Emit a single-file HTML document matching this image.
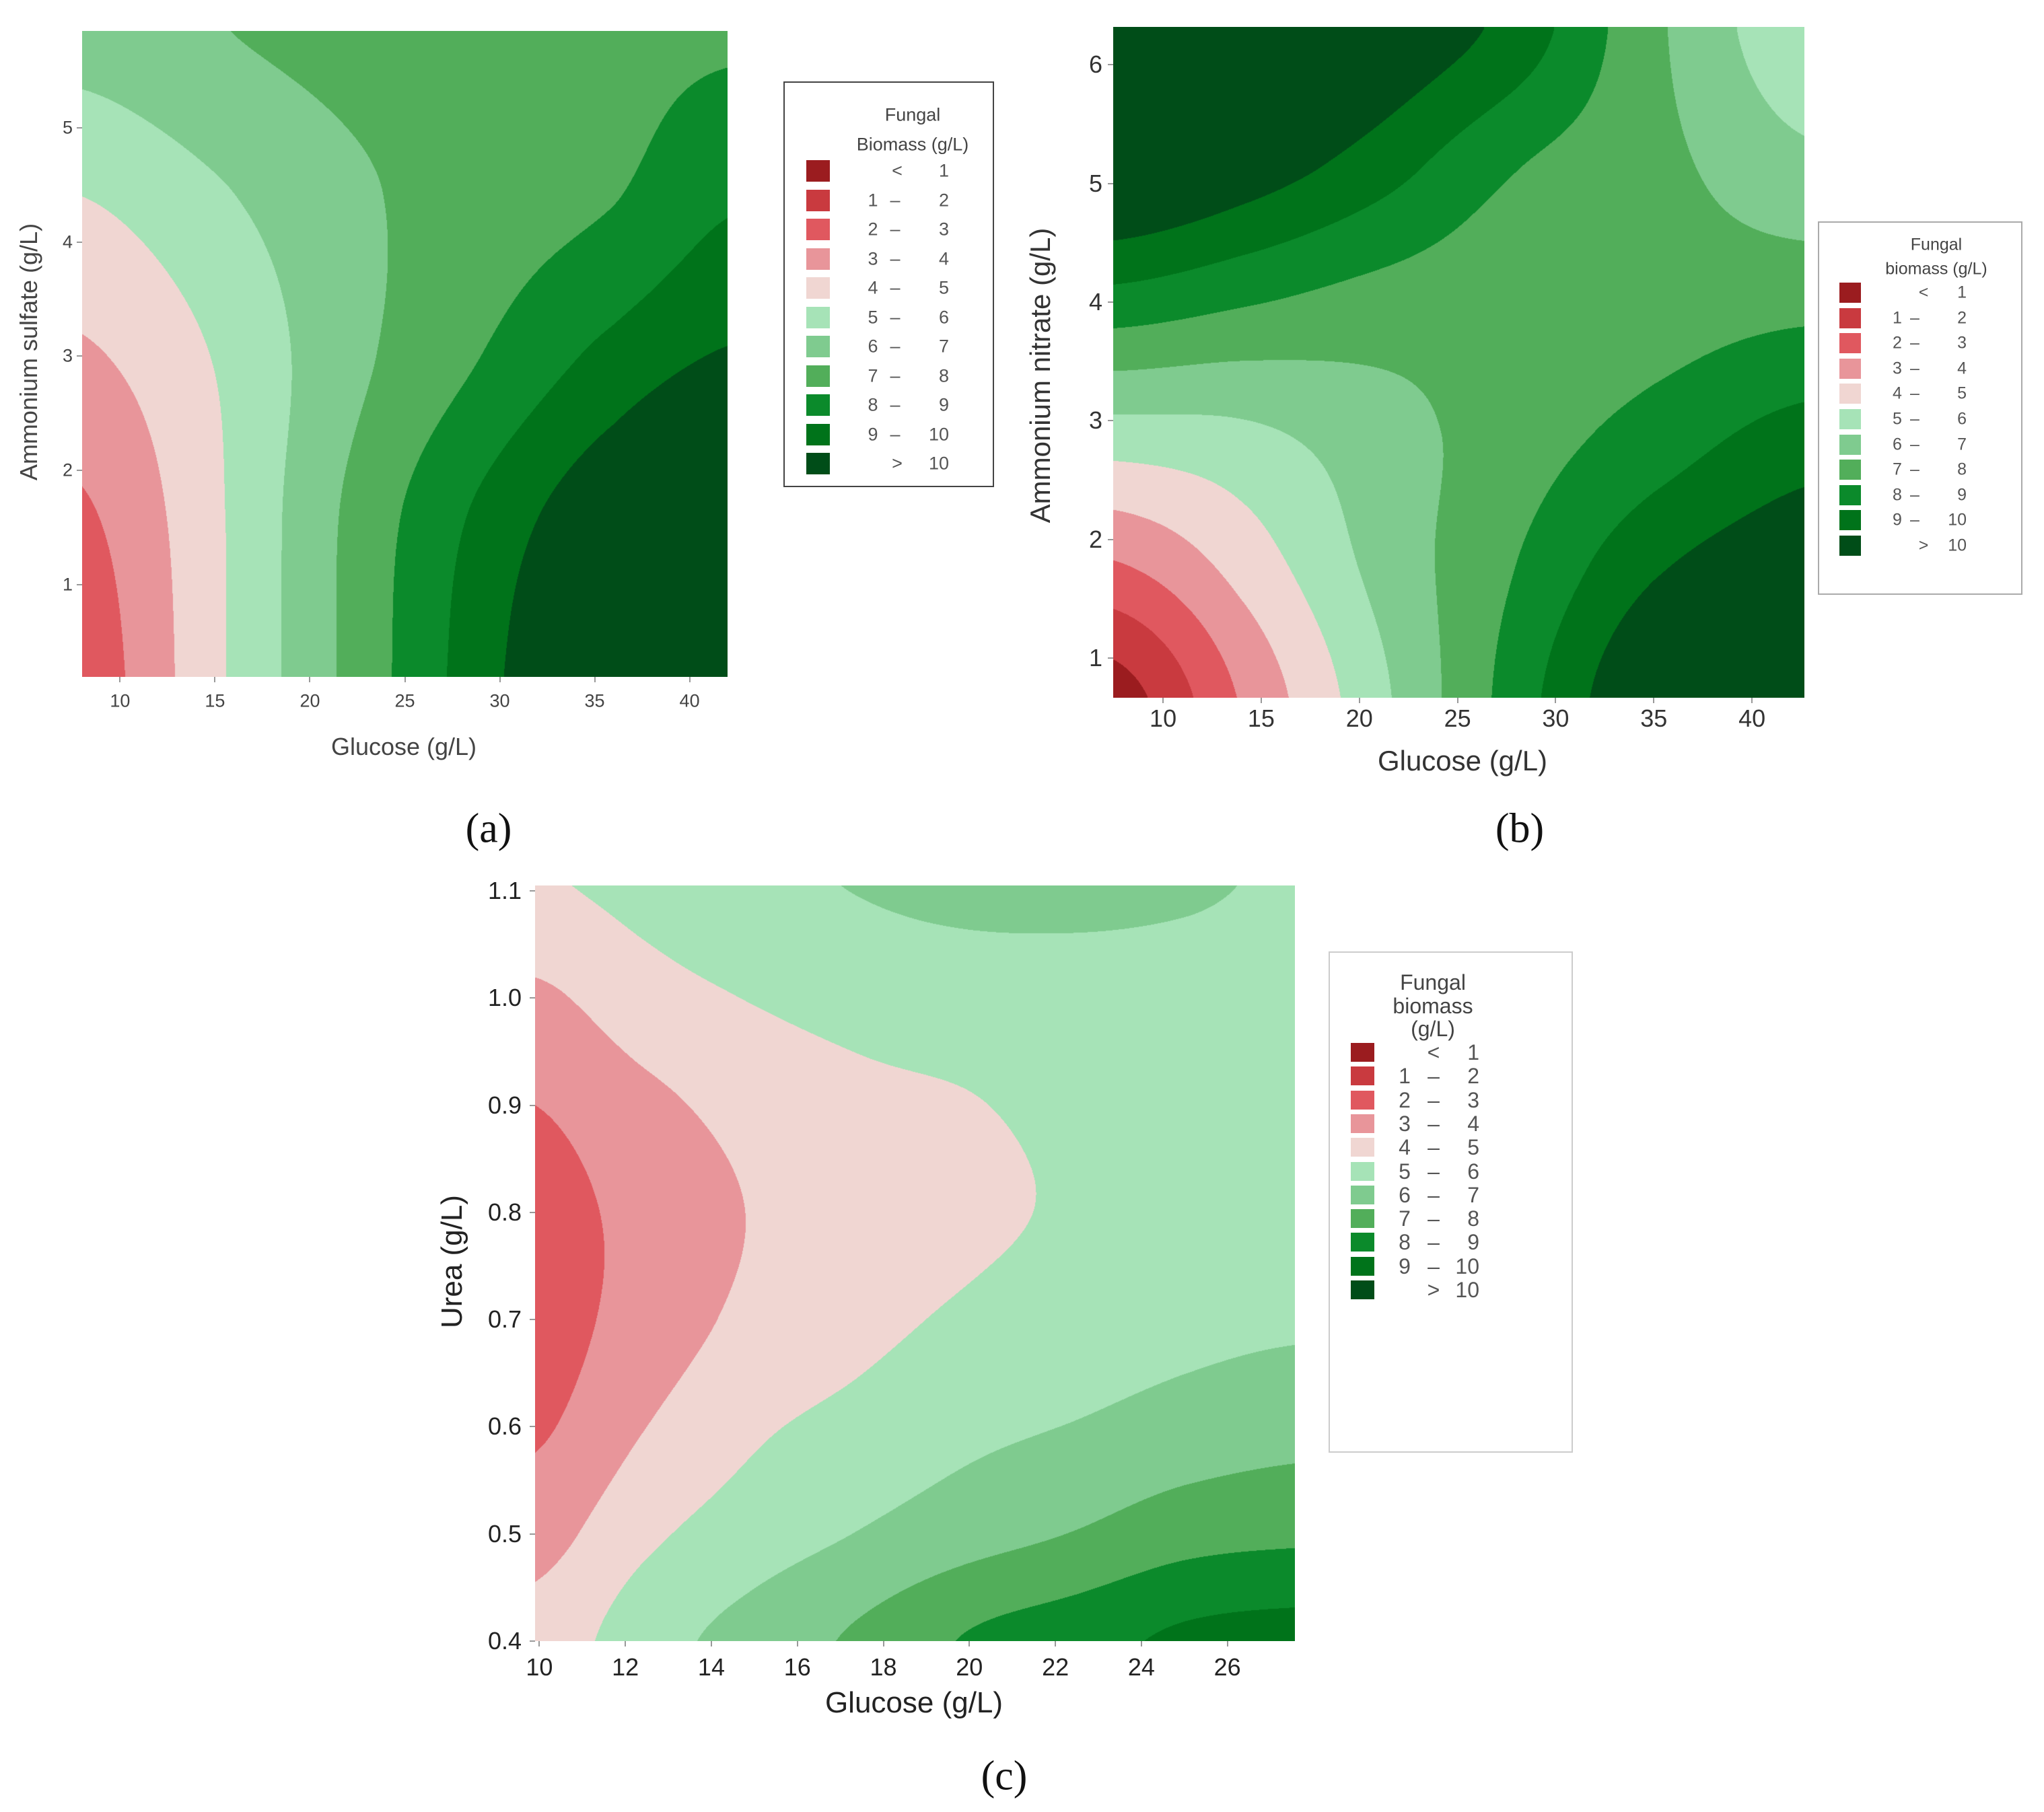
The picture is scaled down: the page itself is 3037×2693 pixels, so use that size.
<!DOCTYPE html>
<html><head><meta charset="utf-8">
<style>
body{margin:0;background:#fff;}
#root{position:relative;width:3037px;height:2693px;overflow:hidden;background:#fff;font-family:"Liberation Sans",sans-serif;color:#444;}
.t{position:absolute;white-space:nowrap;line-height:1;}
canvas{position:absolute;}
.box{position:absolute;box-sizing:border-box;background:#fff;}
.sw{position:absolute;}
.cap{position:absolute;font-family:"Liberation Serif",serif;font-size:62px;color:#111;transform:translate(-50%,-50%);white-space:nowrap;}
</style></head>
<body>
<div id="root"></div>
<script>
// ---------- DATA ----------
const levelColors=["#9b1c1f","#c93a3f","#e0585f","#e8959a","#f0d6d2","#a6e3b7","#7fcb8f","#52ae5a","#0b8a2b","#00731a","#004d18"];
const levelLower=["","1","2","3","4","5","6","7","8","9",""];
const levelUpper=["1","2","3","4","5","6","7","8","9","10","10"];

// panel a : glucose vs ammonium sulfate
const aGlucose=[8,15,22,29,36,42];
const aSulfate=[0.2,1.6,3.0,4.4,5.85];
const aBiomass=[
 [2.4,4.8,7.2,9.6,11.8,13.5],
 [2.85,4.83,7.15,9.2,10.9,12],
 [3.85,5.05,6.7,8.0,9.3,10.1],
 [5.0,5.85,6.8,7.45,7.95,8.85],
 [6.4,6.95,7.3,7.5,7.7,7.85]
];
const aXTicks=[10,15,20,25,30,35,40];
const aYTicks=[1,2,3,4,5];

// panel b : glucose vs ammonium nitrate
const bGlucose=[7.5,14,21,28,35,42.7];
const bNitrate=[0.67,1.8,2.9,4.0,5.1,6.3];
const bBiomass=[
 [0.5,3.1,5.75,8.5,11.3,14],
 [2.95,4.4,6.3,8.0,9.8,11],
 [5.6,5.8,6.6,7.5,8.4,9.4],
 [8.6,8.1,7.6,7.4,7.5,7.7],
 [11.5,10.6,9.4,8.0,7.3,6.3],
 [14,12.5,11,9.6,7.2,5.3]
];
const bXTicks=[10,15,20,25,30,35,40];
const bYTicks=[1,2,3,4,5,6];

// panel c : glucose vs urea
const cGlucose=[9.9,12.5,15,17.5,20,22.5,25,27.6];
const cUrea=[0.4,0.5,0.6,0.7,0.8,0.9,1.0,1.105];
const cBiomass=[
 [4.4,5.6,6.4,7.2,8.1,8.6,9.2,9.4],
 [3.6,4.8,5.5,6.05,6.6,7.05,7.6,7.8],
 [2.85,4.0,4.85,5.3,5.75,6.05,6.4,6.65],
 [2.55,3.45,4.25,4.75,5.15,5.45,5.7,5.85],
 [2.6,3.35,4.05,4.5,4.82,5.12,5.4,5.5],
 [3.0,3.75,4.35,4.75,4.95,5.25,5.4,5.45],
 [3.8,4.6,5.05,5.35,5.5,5.65,5.65,5.6],
 [4.9,5.3,5.75,6.05,6.25,6.2,6.1,5.9]
];
const cXTicks=[10,12,14,16,18,20,22,24,26];
const cYTicks=[0.4,0.5,0.6,0.7,0.8,0.9,1.0,1.1];

// ---------- helpers ----------
const root=document.getElementById('root');
function txt(s,x,y,size,opt){
  opt=opt||{};
  const d=document.createElement('div');
  d.className='t';d.textContent=s;
  d.style.fontSize=size+'px';
  if(opt.color)d.style.color=opt.color;
  if(opt.font)d.style.fontFamily=opt.font;
  let tx=opt.align==='right'?'-100%':(opt.align==='left'?'0':'-50%');
  let tr='translate('+tx+',-50%)';
  if(opt.rot)tr='translate(-50%,-50%) rotate(-90deg)';
  d.style.left=x+'px';d.style.top=y+'px';d.style.transform=tr;
  
  
  root.appendChild(d);return d;
}
function fidx(arr,v){
  if(v<=arr[0])return 0;
  const n=arr.length-1;
  if(v>=arr[n])return n;
  for(let i=0;i<n;i++){if(v<=arr[i+1])return i+(v-arr[i])/(arr[i+1]-arr[i]);}
  return n;
}
function cr(p0,p1,p2,p3,t){
  return 0.5*((2*p1)+(-p0+p2)*t+(2*p0-5*p1+4*p2-p3)*t*t+(-p0+3*p1-3*p2+p3)*t*t*t);
}
function evalGrid(grid,fx,fy){
  const ny=grid.length,nx=grid[0].length;
  let ix=Math.min(Math.floor(fx),nx-2),iy=Math.min(Math.floor(fy),ny-2);
  const tx=fx-ix,ty=fy-iy;
  const g=(r,c)=>grid[Math.max(0,Math.min(ny-1,r))][Math.max(0,Math.min(nx-1,c))];
  const rows=[];
  for(let k=-1;k<=2;k++){
    const r=iy+k;
    rows.push(cr(g(r,ix-1),g(r,ix),g(r,ix+1),g(r,ix+2),tx));
  }
  return cr(rows[0],rows[1],rows[2],rows[3],ty);
}
function hex(h){return [parseInt(h.substr(1,2),16),parseInt(h.substr(3,2),16),parseInt(h.substr(5,2),16)];}
const rgb=levelColors.map(hex);

function panel(P){
  const W=P.x1-P.x0,H=P.y1-P.y0;
  const sx=v=>P.x0+(v-P.xmin)/(P.xmax-P.xmin)*W;
  const sy=v=>P.y1-(v-P.ymin)/(P.ymax-P.ymin)*H;
  const cv=document.createElement('canvas');
  cv.width=W;cv.height=H;cv.style.left=P.x0+'px';cv.style.top=P.y0+'px';
  
  
  root.appendChild(cv);
  const ctx=cv.getContext('2d');
  const img=ctx.createImageData(W,H);
  const fxs=[];for(let i=0;i<W;i++){const v=P.xmin+(i+0.5)/W*(P.xmax-P.xmin);fxs.push(fidx(P.gx,v));}
  for(let j=0;j<H;j++){
    const v=P.ymax-(j+0.5)/H*(P.ymax-P.ymin);
    const fy=fidx(P.gy,v);
    for(let i=0;i<W;i++){
      const z=evalGrid(P.grid,fxs[i],fy);
      let k=Math.floor(z);if(k<0)k=0;if(k>10)k=10;
      const c=rgb[k],o=(j*W+i)*4;
      img.data[o]=c[0];img.data[o+1]=c[1];img.data[o+2]=c[2];img.data[o+3]=255;
    }
  }
  ctx.putImageData(img,0,0);
  P.xt.forEach(t=>{
    const x=sx(t);
    const m=document.createElement('div');m.className='sw';
    m.style.cssText='left:'+(x-1)+'px;top:'+P.y1+'px;width:2px;height:8px;background:#999;';
    root.appendChild(m);
    txt(String(t),x,P.xly,P.tf,{name:'x-tick-label',color:P.tc,font:P.tfont});
  });
  P.yt.forEach(t=>{
    const y=sy(t);
    const m=document.createElement('div');m.className='sw';
    m.style.cssText='left:'+(P.x0-8)+'px;top:'+(y-1)+'px;width:8px;height:2px;background:#999;';
    root.appendChild(m);
    txt(P.yfmt?t.toFixed(1):String(t),P.ylx,y,P.tf,{name:'y-tick-label',align:'right',color:P.tc,font:P.tfont});
  });
  txt(P.xtitle,P.xtx,P.xty,P.af,{name:'x-axis-title',color:P.tc});
  txt(P.ytitle,P.ytx,P.yty,P.af,{name:'y-axis-title',rot:true,color:P.tc});
  const L=P.leg;
  const b=document.createElement('div');b.className='box';
  b.style.cssText+='left:'+L.x0+'px;top:'+L.y0+'px;width:'+(L.x1-L.x0)+'px;height:'+(L.y1-L.y0)+'px;border:'+L.border+';';
  root.appendChild(b);
  L.title.forEach((s,i)=>txt(s,L.tx,L.ty[i],L.tfs,{name:'legend-title',color:'#444'}));
  levelColors.forEach((c,i)=>{
    const cy=L.first+i*L.step;
    const s=document.createElement('div');s.className='sw';
    s.style.cssText='left:'+L.sx+'px;top:'+(cy-L.sh/2)+'px;width:'+L.sw+'px;height:'+L.sh+'px;background:'+c+';';
    root.appendChild(s);
    if(i===0)txt('<',L.sym,cy,L.fs,{name:'legend-entry',color:'#555'});
    else if(i===10)txt('>',L.sym,cy,L.fs,{name:'legend-entry',color:'#555'});
    else{txt(levelLower[i],L.lo,cy,L.fs,{name:'legend-entry',color:'#555'});txt('–',L.dash,cy,L.fs,{name:'legend-entry',color:'#555'});}
    txt(levelUpper[i],L.up,cy,L.fs,{name:'legend-entry',align:'right',color:'#555'});
  });
}

panel({id:'panel-a',x0:122,x1:1081,y0:46,y1:1006,xmin:8,xmax:42,ymin:0.19,ymax:5.85,
  gx:aGlucose,gy:aSulfate,grid:aBiomass,xt:aXTicks,yt:aYTicks,
  xly:1042,ylx:108,tf:27,tc:'#444',tfont:'"Liberation Sans",sans-serif',
  xtitle:'Glucose (g/L)',xtx:600,xty:1110,ytitle:'Ammonium sulfate (g/L)',ytx:43,yty:523,af:36,
  leg:{x0:1164,y0:121,x1:1477,y1:724,border:'2px solid #444',title:['Fungal','Biomass (g/L)'],tx:1356,ty:[171,215],tfs:27,
       sx:1198,sw:35,sh:32,first:254,step:43.5,fs:27,sym:1333,lo:1297,dash:1330,up:1410}});

panel({id:'panel-b',x0:1654,x1:2681,y0:40,y1:1037,xmin:7.46,xmax:42.67,ymin:0.665,ymax:6.32,
  gx:bGlucose,gy:bNitrate,grid:bBiomass,xt:bXTicks,yt:bYTicks,
  xly:1068,ylx:1638,tf:36,tc:'#333',tfont:'"Liberation Sans",sans-serif',
  xtitle:'Glucose (g/L)',xtx:2173,xty:1131,ytitle:'Ammonium nitrate (g/L)',ytx:1546,yty:558,af:42,
  leg:{x0:2701,y0:329,x1:3005,y1:884,border:'2px solid #aaa',title:['Fungal','biomass (g/L)'],tx:2877,ty:[364,400],tfs:25,
       sx:2733,sw:32,sh:30,first:435,step:37.6,fs:25,sym:2858,lo:2819,dash:2845,up:2922}});

panel({id:'panel-c',x0:795,x1:1924,y0:1316,y1:2439,xmin:9.9,xmax:27.57,ymin:0.4,ymax:1.105,
  gx:cGlucose,gy:cUrea,grid:cBiomass,xt:cXTicks,yt:cYTicks,yfmt:true,
  xly:2478,ylx:775,tf:36,tc:'#222',tfont:'"Liberation Sans",sans-serif',
  xtitle:'Glucose (g/L)',xtx:1358,xty:2531,ytitle:'Urea (g/L)',ytx:672,yty:1875,af:44,
  leg:{x0:1974,y0:1414,x1:2337,y1:2159,border:'2px solid #ccc',title:['Fungal','biomass','(g/L)'],tx:2129,ty:[1460,1495,1529],tfs:32,
       sx:2007,sw:35,sh:28,first:1564,step:35.3,fs:32,sym:2130,lo:2087,dash:2130,up:2198}});

[['(a)',726,1232,'caption-a'],['(b)',2258,1232,'caption-b'],['(c)',1492,2640,'caption-c']].forEach(c=>{
  const d=document.createElement('div');d.className='cap';d.textContent=c[0];
  d.style.left=c[1]+'px';d.style.top=c[2]+'px';
  
  
  root.appendChild(d);
});
</script>
</body></html>
